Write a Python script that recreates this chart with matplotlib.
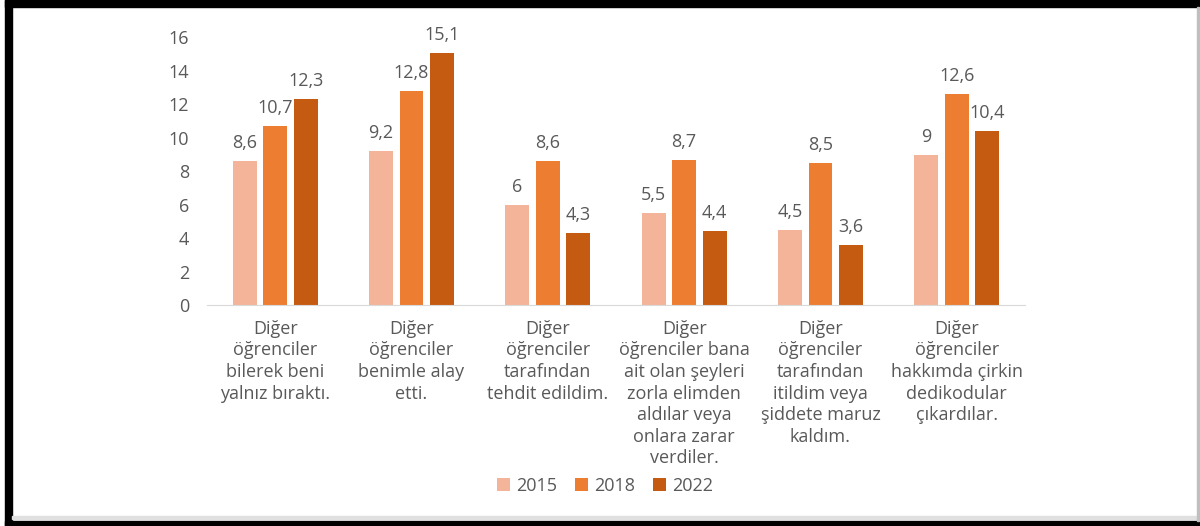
import numpy as np
import matplotlib.pyplot as plt
from matplotlib.patches import Rectangle

# Chart data
categories = ['Diğer\nöğrenciler\nbilerek beni\nyalnız bıraktı.',
              'Diğer\nöğrenciler\nbenimle alay\netti.',
              'Diğer\nöğrenciler\ntarafından\ntehdit edildim.',
              'Diğer\nöğrenciler bana\nait olan şeyleri\nzorla elimden\naldılar veya\nonlara zarar\nverdiler.',
              'Diğer\nöğrenciler\ntarafından\nitildim veya\nşiddete maruz\nkaldım.',
              'Diğer\nöğrenciler\nhakkımda çirkin\ndedikodular\nçıkardılar.']
years = ['2015', '2018', '2022']
values_2015 = [8.6, 9.2, 6, 5.5, 4.5, 9]
values_2018 = [10.7, 12.8, 8.6, 8.7, 8.5, 12.6]
values_2022 = [12.3, 15.1, 4.3, 4.4, 3.6, 10.4]
yticks = [0, 2, 4, 6, 8, 10, 12, 14, 16]

colors = ['#F4B49A', '#ED7D31', '#C55A11']
text_color = '#595959'
fs = 13
plt.rcParams['font.family'] = ['Open Sans', 'DejaVu Sans']

fig = plt.figure(figsize=(12, 5.26), dpi=100)
W, H = 1200, 526
ax = fig.add_axes([207 / W, 1 - 305 / H, 818 / W, 267.5 / H])

x = np.arange(len(categories))
bar_w = 0.176
step = 0.224
series = [values_2015, values_2018, values_2022]
for i, (vals, year, c) in enumerate(zip(series, years, colors)):
    bars = ax.bar(x + (i - 1) * step, vals, width=bar_w, color=c, label=year)
    for b, v in zip(bars, vals):
        ax.annotate(f'{v:g}'.replace('.', ','),
                    (b.get_x() + b.get_width() / 2, b.get_height()),
                    xytext=(0, 6.5), textcoords='offset points',
                    ha='center', va='bottom', fontsize=fs, color=text_color)

ax.set_xlim(-0.5, len(categories) - 0.5)
ax.set_ylim(0, 16)
ax.set_yticks(yticks)
ax.set_xticks(x)
ax.set_xticklabels(categories, fontsize=fs, color=text_color, linespacing=1.26,
                   va='top', ha='center')
ax.tick_params(axis='both', length=0, colors=text_color, labelsize=fs)
ax.tick_params(axis='x', pad=10.5)
ax.tick_params(axis='y', pad=13)
for s in ['top', 'right', 'left']:
    ax.spines[s].set_visible(False)
ax.spines['bottom'].set_color('#D9D9D9')

fig.legend(loc='center', bbox_to_anchor=(605 / W, 1 - 486 / H), ncol=3,
           frameon=False, fontsize=fs, handlelength=0.7, handleheight=0.7,
           columnspacing=1.0, handletextpad=0.35, labelcolor=text_color)

# black frame around the picture
def px_rect(x0, y0, w, h, color):
    fig.patches.append(Rectangle((x0 / W, 1 - (y0 + h) / H), w / W, h / H,
                                 transform=fig.transFigure, color=color,
                                 zorder=10))

px_rect(5, 0, 1195, 7, 'black')
px_rect(5, 0, 7, 526, 'black')
px_rect(5, 521, 1195, 5, 'black')
px_rect(12, 516, 1186, 3, '#E0E0E0')
px_rect(1197, 7, 2, 514, '#BFBFBF')

fig.savefig('out.png', dpi=100)
